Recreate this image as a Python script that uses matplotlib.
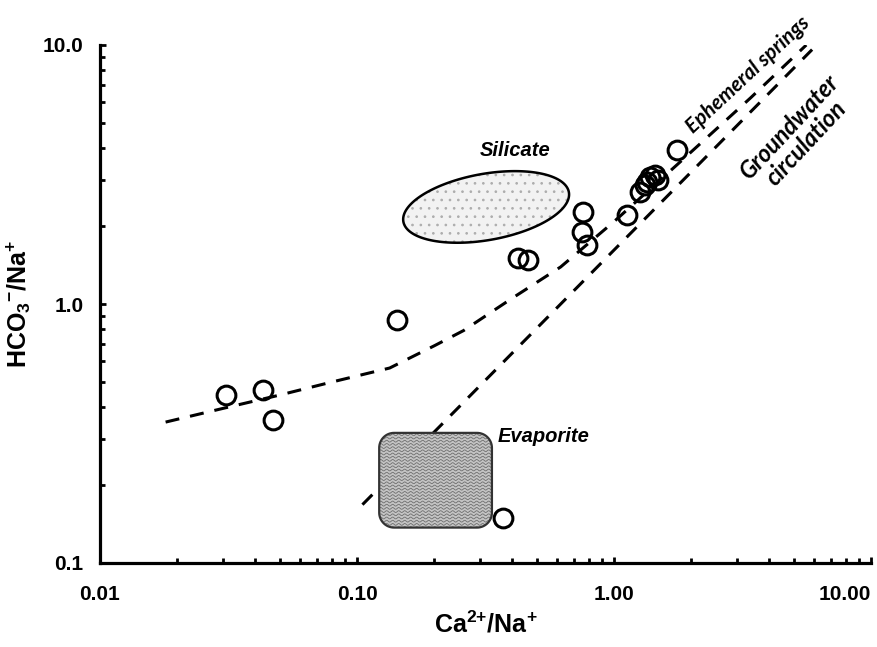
import numpy as np
import matplotlib
matplotlib.use("Agg")
import matplotlib.pyplot as plt
from matplotlib.patches import Polygon
from matplotlib.ticker import FixedLocator, FixedFormatter, LogLocator, NullFormatter

# --- sample ratios ---
ca_na = [0.031, 0.043, 0.047, 0.143, 0.37, 0.423, 0.462, 0.757, 0.75, 0.785,
         1.12, 1.26, 1.32, 1.34, 1.38, 1.44, 1.48, 1.76]
hco3_na = [0.445, 0.466, 0.357, 0.868, 0.149, 1.505, 1.48, 2.27, 1.90, 1.69,
           2.21, 2.71, 2.88, 2.96, 3.09, 3.15, 3.01, 3.93]

# --- reference trends ---
eph_x = [0.018, 0.03, 0.05, 0.08, 0.134, 0.2, 0.26, 0.4, 0.62, 1.0, 1.76, 3.4, 5.6]
eph_y = [0.35, 0.395, 0.445, 0.50, 0.566, 0.69, 0.79, 1.05, 1.39, 2.08, 3.45, 6.25, 10.0]
gw_x = [0.105, 5.9]
gw_y = [0.168, 9.6]

# --- end-member fields ---
silicate_center = (0.318, 2.37)     # data coords
silicate_axes = (0.327, 0.128)      # semi-axes, in decades
silicate_angle = 10.0               # degrees
evaporite_x = (0.122, 0.335)
evaporite_y = (0.137, 0.318)

x_ticks = [0.01, 0.1, 1.0, 10.0]
x_ticklabels = ["0.01", "0.10", "1.00", "10.00"]
y_ticks = [0.1, 1.0, 10.0]
y_ticklabels = ["0.1", "1.0", "10.0"]

plt.rcParams["font.family"] = ["Liberation Sans", "DejaVu Sans"]
plt.rcParams["mathtext.fontset"] = "custom"
plt.rcParams["mathtext.rm"] = "Liberation Sans:bold"
plt.rcParams["mathtext.default"] = "rm"
plt.rcParams["hatch.linewidth"] = 0.7

fig = plt.figure(figsize=(8.77, 6.47), dpi=100)
ax = fig.add_axes([100 / 877, 84 / 647, 771 / 877, 518 / 647])
ax.set_xscale("log")
ax.set_yscale("log")
ax.set_xlim(0.01, 10)
ax.set_ylim(0.1, 10)

for s in ("top", "right"):
    ax.spines[s].set_visible(False)
for s in ("left", "bottom"):
    ax.spines[s].set_linewidth(2.3)

dash = (0, (4.6, 3.6))
ax.plot(eph_x, eph_y, color="black", lw=2.2, linestyle=dash, zorder=2,
        dash_capstyle="butt")
ax.plot(gw_x, gw_y, color="black", lw=2.2, linestyle=dash, zorder=2,
        dash_capstyle="butt")


def ellipse_log(center, axes, angle_deg, n=200):
    cx, cy = np.log10(center[0]), np.log10(center[1])
    a, b = axes
    th = np.deg2rad(angle_deg)
    t = np.linspace(0, 2 * np.pi, n)
    lx = cx + a * np.cos(t) * np.cos(th) - b * np.sin(t) * np.sin(th)
    ly = cy + a * np.cos(t) * np.sin(th) + b * np.sin(t) * np.cos(th)
    return np.column_stack([10 ** lx, 10 ** ly])


def rounded_rect_log(xr, yr, r, n=16):
    lx0, lx1 = np.log10(xr)
    ly0, ly1 = np.log10(yr)
    pts = []
    corners = [((lx1 - r, ly0 + r), -90, 0), ((lx1 - r, ly1 - r), 0, 90),
               ((lx0 + r, ly1 - r), 90, 180), ((lx0 + r, ly0 + r), 180, 270)]
    for (cx, cy), a0, a1 in corners:
        ang = np.deg2rad(np.linspace(a0, a1, n))
        pts.extend(zip(cx + r * np.cos(ang), cy + r * np.sin(ang)))
    return 10 ** np.array(pts)


# silicate field: light dotted fill, then a black outline
sil_xy = ellipse_log(silicate_center, silicate_axes, silicate_angle)
ax.add_patch(Polygon(sil_xy, closed=True, facecolor="#f2f2f2",
                     edgecolor="#adadad", lw=0, hatch="..", zorder=3))
ax.add_patch(Polygon(sil_xy, closed=True, facecolor="none",
                     edgecolor="black", lw=1.8, zorder=3.2))

# evaporite field with a wavy texture
evap_xy = rounded_rect_log(evaporite_x, evaporite_y, 0.058)
evap = Polygon(evap_xy, closed=True, facecolor="#c4c4c4", edgecolor="none",
               lw=0, zorder=3)
ax.add_patch(evap)
lx0, lx1 = np.log10(evaporite_x)
ly0, ly1 = np.log10(evaporite_y)
step = 3.2 / 259
xs = np.linspace(lx0, lx1, 400)
for yy in np.arange(ly0, ly1 + step, step):
    wave = yy + (0.9 / 259) * np.sin((xs - lx0) * 257 * 2 * np.pi / 6.0)
    ln, = ax.plot(10 ** xs, 10 ** wave, color="#6e6e6e", lw=0.6, zorder=3.1)
    ln.set_clip_path(evap)
ax.add_patch(Polygon(evap_xy, closed=True, facecolor="none",
                     edgecolor="#333333", lw=1.6, zorder=3.2))

ax.plot(ca_na, hco3_na, linestyle="none", marker="o", markersize=13.5,
        markerfacecolor="none", markeredgecolor="black", markeredgewidth=2.2,
        zorder=4)

# axis ticks
ax.xaxis.set_major_locator(FixedLocator(x_ticks))
ax.xaxis.set_major_formatter(FixedFormatter(x_ticklabels))
ax.yaxis.set_major_locator(FixedLocator(y_ticks))
ax.yaxis.set_major_formatter(FixedFormatter(y_ticklabels))
ax.xaxis.set_minor_locator(LogLocator(base=10, subs=np.arange(2, 10)))
ax.yaxis.set_minor_locator(LogLocator(base=10, subs=np.arange(2, 10)))
ax.xaxis.set_minor_formatter(NullFormatter())
ax.yaxis.set_minor_formatter(NullFormatter())
ax.tick_params(which="both", direction="in", width=2.0, color="black")
ax.tick_params(which="major", length=4.5)
ax.tick_params(which="minor", length=3.5)
ax.tick_params(axis="x", which="major", pad=16, labelsize=15)
ax.tick_params(axis="y", which="major", pad=12, labelsize=15)
fig.canvas.draw()
for lab in ax.get_xticklabels() + ax.get_yticklabels():
    lab.set_fontweight("bold")
ax.get_xticklabels()[-1].set_horizontalalignment("right")

ax.set_xlabel("Ca$^{2{+}}$/Na$^{+}$", fontsize=18, fontweight="bold")
ax.xaxis.set_label_coords(0.5, -0.093)
ax.set_ylabel("HCO$_3$$^{-}$/Na$^{+}$", fontsize=18, fontweight="bold")
ax.yaxis.set_label_coords(-0.087, 0.5)

# annotations
ax.text(0.538, 0.797, "Silicate", transform=ax.transAxes, ha="center", va="center",
        fontsize=14.5, fontweight="bold", style="italic")
ax.text(0.575, 0.245, "Evaporite", transform=ax.transAxes, ha="center", va="center",
        fontsize=14.5, fontweight="bold", style="italic")
ax.text(0.840, 0.942, "Ephemeral springs", transform=ax.transAxes, ha="center",
        va="center", rotation=43, rotation_mode="anchor", fontsize=15,
        fontweight="bold", style="italic", family=["Lato", "DejaVu Sans"])
ax.text(0.905, 0.826, "Groundwater\ncirculation", transform=ax.transAxes,
        ha="center", va="center", rotation=47, rotation_mode="anchor",
        multialignment="center", fontsize=17, fontweight="bold", style="italic",
        family=["Lato", "DejaVu Sans"], linespacing=1.0)

fig.savefig("out.png", dpi=100)
